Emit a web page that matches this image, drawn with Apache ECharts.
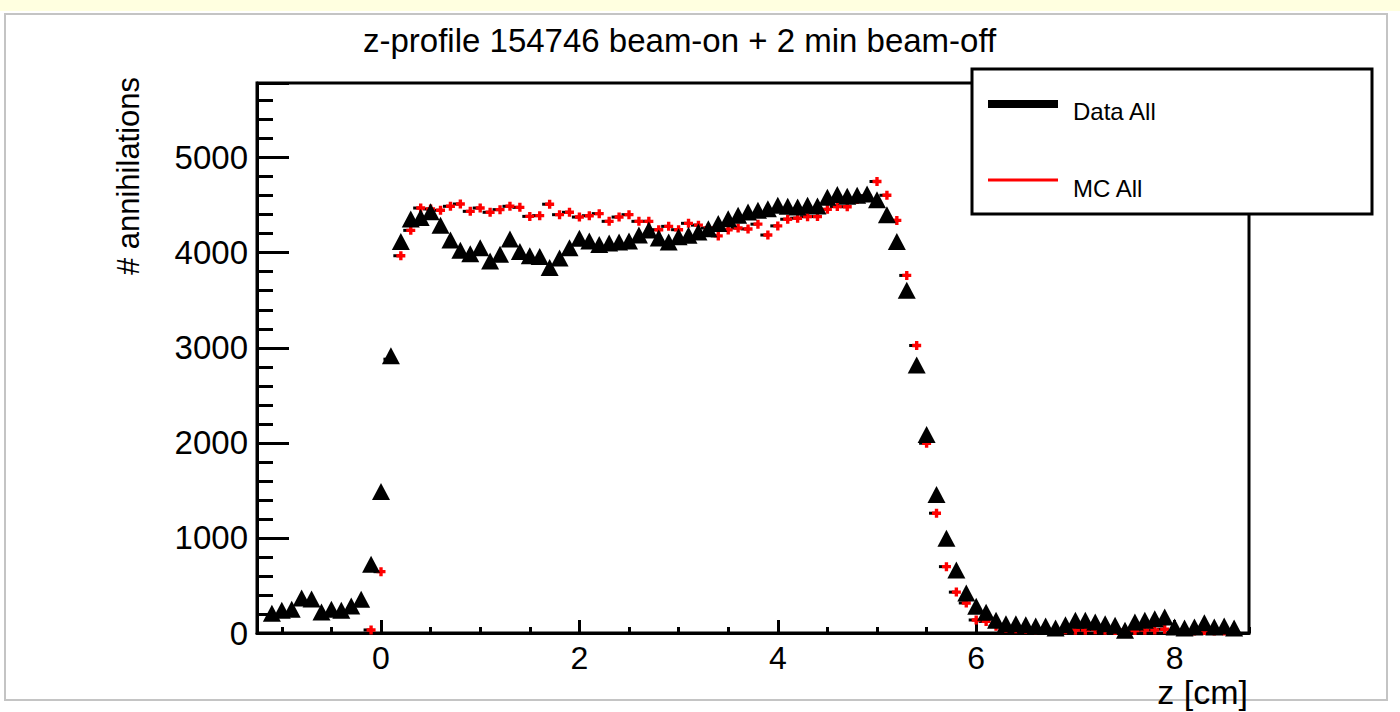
<!DOCTYPE html>
<html>
<head>
<meta charset="utf-8">
<script src="https://cdn.jsdelivr.net/npm/echarts@6/dist/echarts.min.js"></script>
<style>
  html, body { margin: 0; padding: 0; background: #fff; }
  #chart { width: 1400px; height: 712px; }
</style>
</head>
<body>
<div id="chart"></div>
<script>
// bin centres (cm)
var zBins = [-1.1, -1.0, -0.9, -0.8, -0.7, -0.6, -0.5, -0.4, -0.3, -0.2,
  -0.1, 0.0, 0.1, 0.2, 0.3, 0.4, 0.5, 0.6, 0.7, 0.8,
  0.9, 1.0, 1.1, 1.2, 1.3, 1.4, 1.5, 1.6, 1.7, 1.8,
  1.9, 2.0, 2.1, 2.2, 2.3, 2.4, 2.5, 2.6, 2.7, 2.8,
  2.9, 3.0, 3.1, 3.2, 3.3, 3.4, 3.5, 3.6, 3.7, 3.8,
  3.9, 4.0, 4.1, 4.2, 4.3, 4.4, 4.5, 4.6, 4.7, 4.8,
  4.9, 5.0, 5.1, 5.2, 5.3, 5.4, 5.5, 5.6, 5.7, 5.8,
  5.9, 6.0, 6.1, 6.2, 6.3, 6.4, 6.5, 6.6, 6.7, 6.8,
  6.9, 7.0, 7.1, 7.2, 7.3, 7.4, 7.5, 7.6, 7.7, 7.8,
  7.9, 8.0, 8.1, 8.2, 8.3, 8.4, 8.5, 8.6];

// Data All (triangles)
var dataAll = [207, 239, 249, 368, 358, 221, 249, 239, 284, 354,
  723, 1488, 2916, 4119, 4355, 4370, 4430, 4290, 4133, 4025,
  3990, 4053, 3912, 3983, 4144, 4014, 3968, 3961, 3845, 3944,
  4053, 4151, 4123, 4087, 4102, 4112, 4123, 4186, 4239, 4155,
  4112, 4168, 4183, 4218, 4253, 4306, 4358, 4393, 4428, 4446,
  4463, 4498, 4488, 4481, 4498, 4491, 4583, 4611, 4593, 4604,
  4618, 4558, 4400, 4119, 3604, 2818, 2088, 1456, 996, 663,
  421, 281, 218, 133, 98, 98, 88, 74, 74, 53,
  88, 133, 133, 116, 98, 81, 28, 116, 133, 151,
  168, 63, 53, 63, 109, 63, 74, 53];

// MC All (red crosses), empty bins left out
var mcAll = [null, null, null, null, null, null, null, null, null, null,
  32, 645, 2880, 3968, 4235, 4470, 4460, 4446, 4488, 4512,
  4435, 4470, 4425, 4453, 4488, 4477, 4382, 4390, 4510, 4400,
  4425, 4375, 4389, 4411, 4330, 4375, 4400, 4330, 4330, 4242,
  4277, 4242, 4309, 4290, 4260, 4177, 4240, 4260, 4250, 4300,
  4186, 4282, 4352, 4363, 4379, 4380, 4456, 4485, 4484, 4560,
  4600, 4749, 4604, 4340, 3761, 3024, 1996, 1260, 698, 430,
  316, 137, 122, 70, 50, 45, 40, 35, 40, 30,
  35, 30, 30, 35, 30, 25, 30, 25, 30, 32,
  40, 25, 25, 20, 25, 20, 20, 20];

var yMajor = [0, 1000, 2000, 3000, 4000, 5000];

var FONT = '"Liberation Sans", Arial, sans-serif';
var plus = 'path://M2.5,0H5.5V2.5H8V5.5H5.5V8H2.5V5.5H0V2.5H2.5Z';

function pairs(vals) {
  var out = [];
  for (var i = 0; i < zBins.length; i++) {
    if (vals[i] != null) out.push([zBins[i], vals[i]]);
  }
  return out;
}

var chart = echarts.init(document.getElementById('chart'), null, { renderer: 'svg' });

var option = {
  backgroundColor: '#fff',
  animation: false,
  title: {
    text: 'z-profile 154746 beam-on + 2 min beam-off',
    left: 363,
    top: 24,
    padding: 0,
    textStyle: { fontFamily: FONT, fontSize: 33, fontWeight: 'normal', color: '#000' }
  },
  grid: {
    left: 257, right: 151, top: 83, bottom: 79,
    show: true, borderColor: '#000', borderWidth: 3, backgroundColor: 'transparent'
  },
  xAxis: [{
    type: 'value', min: -1.25, max: 8.75, splitNumber: 20, position: 'bottom',
    name: 'z [cm]', nameLocation: 'end', nameGap: -1,
    nameTextStyle: { fontFamily: FONT, fontSize: 34, color: '#000', align: 'right', verticalAlign: 'top', padding: [42, 0, 0, 0] },
    axisLine: { show: true, onZero: false, lineStyle: { color: '#000', width: 3 } },
    axisTick: { inside: true, length: 6, lineStyle: { color: '#000', width: 3 } },
    axisLabel: { show: false },
    splitLine: { show: false }
  }, {
    type: 'value', min: -1.25, max: 8.75, splitNumber: 5, position: 'bottom',
    axisLine: { show: false, onZero: false },
    axisTick: { inside: true, length: 13, lineStyle: { color: '#000', width: 3 } },
    axisLabel: {
      margin: 9, fontFamily: FONT, fontSize: 32, color: '#000',
      showMinLabel: false, showMaxLabel: false
    },
    splitLine: { show: false }
  }],
  yAxis: [{
    type: 'value', min: 0, max: 5785, interval: 200, position: 'left',
    axisLine: { show: true, onZero: false, lineStyle: { color: '#000', width: 3 } },
    axisTick: { inside: true, length: 16, lineStyle: { color: '#000', width: 3 } },
    axisLabel: {
      margin: 9, fontFamily: FONT, fontSize: 33, color: '#000', padding: [10, 0, 0, 0],
      showMaxLabel: false,
      formatter: function (v) { return yMajor.indexOf(v) >= 0 ? String(v) : ''; }
    },
    splitLine: { show: false }
  }, {
    type: 'value', min: 0, max: 5785, interval: 1000, position: 'left',
    axisLine: { show: false, onZero: false },
    axisTick: { inside: true, length: 32, lineStyle: { color: '#000', width: 3 } },
    axisLabel: { show: false },
    splitLine: { show: false }
  }],
  graphic: [
    { type: 'rect', z: -10, shape: { x: 0, y: 0, width: 1400, height: 11 }, style: { fill: '#ffffe0' } },
    { type: 'rect', z: -10, shape: { x: 5, y: 14, width: 1382, height: 686 }, style: { fill: 'none', stroke: '#c4c4c4', lineWidth: 2 } },
    {
      type: 'text', x: 128, y: 176, rotation: Math.PI / 2,
      style: { text: '# annihilations', fontFamily: FONT, fontSize: 31, fill: '#000', align: 'center', verticalAlign: 'middle' }
    },
    { type: 'rect', z: 100, shape: { x: 972, y: 69, width: 400, height: 145 }, style: { fill: '#fff', stroke: '#000', lineWidth: 3 } },
    { type: 'line', z: 101, shape: { x1: 988, y1: 104, x2: 1058, y2: 104 }, style: { stroke: '#000', lineWidth: 8 } },
    { type: 'text', z: 101, x: 1073, y: 111, style: { text: 'Data All', fontFamily: FONT, fontSize: 24, fill: '#000', verticalAlign: 'middle' } },
    { type: 'line', z: 101, shape: { x1: 988, y1: 180, x2: 1058, y2: 180 }, style: { stroke: '#ff0000', lineWidth: 3 } },
    { type: 'text', z: 101, x: 1073, y: 188, style: { text: 'MC All', fontFamily: FONT, fontSize: 24, fill: '#000', verticalAlign: 'middle' } }
  ],
  series: [{
    name: 'MC All',
    type: 'scatter',
    data: pairs(mcAll),
    symbol: 'rect',
    symbolSize: [7, 3],
    symbolOffset: [-4, 0],
    itemStyle: { color: '#000', opacity: 1 },
    z: 2
  }, {
    name: 'MC All',
    type: 'scatter',
    data: pairs(mcAll),
    symbol: plus,
    symbolSize: 9,
    itemStyle: { color: '#ff0000', opacity: 1 },
    z: 3
  }, {
    name: 'Data All',
    type: 'scatter',
    data: pairs(dataAll),
    symbol: 'triangle',
    symbolSize: [18, 17],
    itemStyle: { color: '#000', opacity: 1 },
    z: 4
  }]
};

chart.setOption(option);
</script>
</body>
</html>
